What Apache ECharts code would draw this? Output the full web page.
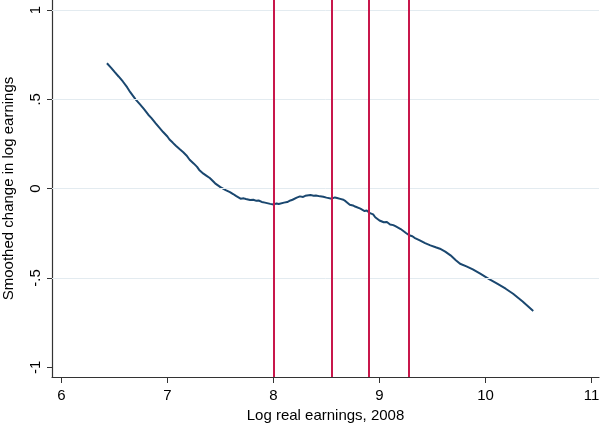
<!DOCTYPE html>
<html><head><meta charset="utf-8">
<script src="https://cdn.jsdelivr.net/npm/echarts@6/dist/echarts.min.js"></script>
<style>html,body{margin:0;padding:0;background:#fff}#c{width:600px;height:426px}</style>
</head><body><div id="c"></div><script>
const earningsX = [6.43,6.47,6.50,6.54,6.58,6.62,6.65,6.70,6.74,6.78,6.82,6.85,6.89,6.92,6.96,7.00,7.02,7.05,7.08,7.12,7.15,7.18,7.21,7.25,7.28,7.30,7.34,7.37,7.40,7.45,7.50,7.55,7.59,7.62,7.65,7.69,7.72,7.74,7.78,7.81,7.84,7.86,7.89,7.92,7.97,8.00,8.03,8.05,8.10,8.13,8.16,8.18,8.22,8.25,8.28,8.30,8.35,8.38,8.40,8.44,8.47,8.50,8.55,8.58,8.60,8.63,8.66,8.68,8.72,8.75,8.77,8.82,8.86,8.88,8.91,8.94,8.96,9.00,9.04,9.07,9.10,9.13,9.15,9.20,9.25,9.28,9.31,9.33,9.38,9.43,9.48,9.53,9.57,9.62,9.67,9.72,9.76,9.82,9.88,9.95,10.03,10.11,10.19,10.26,10.35,10.45];
const changeY = [0.702,0.676,0.655,0.628,0.600,0.568,0.540,0.500,0.473,0.445,0.414,0.395,0.366,0.345,0.317,0.292,0.275,0.258,0.240,0.219,0.204,0.186,0.162,0.140,0.122,0.105,0.084,0.072,0.060,0.030,0.009,-0.008,-0.019,-0.030,-0.042,-0.056,-0.054,-0.058,-0.063,-0.062,-0.068,-0.066,-0.074,-0.078,-0.085,-0.088,-0.083,-0.086,-0.078,-0.075,-0.066,-0.062,-0.050,-0.043,-0.046,-0.040,-0.036,-0.039,-0.038,-0.043,-0.045,-0.050,-0.056,-0.049,-0.052,-0.057,-0.062,-0.070,-0.090,-0.094,-0.100,-0.112,-0.125,-0.122,-0.137,-0.144,-0.160,-0.178,-0.188,-0.186,-0.200,-0.204,-0.210,-0.226,-0.248,-0.261,-0.266,-0.275,-0.289,-0.305,-0.317,-0.328,-0.336,-0.352,-0.373,-0.400,-0.420,-0.435,-0.452,-0.476,-0.505,-0.532,-0.560,-0.588,-0.632,-0.685];
const cutoffs = [8, 8.55, 8.905, 9.28];
const xTicks = [6,7,8,9,10,11];
const yTicks = [-1,-0.5,0,0.5,1];
const yTickLabels = ['-1','-.5','0','.5','1'];
const yGridLines = [-0.5,0,0.5,1];

const X_MIN = 5.912, X_MAX = 11.07, Y_MIN = -1.054, Y_MAX = 1.056;
const FONT = '"Liberation Sans", Arial, Helvetica, sans-serif';
const chart = echarts.init(document.getElementById('c'), null, {renderer:'canvas'});
const curve = earningsX.map((x,i)=>[x, changeY[i]]);
chart.setOption({
  animation:false,
  backgroundColor:'#ffffff',
  grid:{left:52, right:1, top:0, bottom:49, containLabel:false, outerBoundsMode:'none', show:false},
  xAxis:{
    type:'value', min:X_MIN, max:X_MAX,
    name:'Log real earnings, 2008', nameLocation:'middle', nameGap:29,
    nameTextStyle:{fontFamily:FONT, fontSize:15, color:'#000'},
    axisLine:{show:true, onZero:false, lineStyle:{color:'#333333', width:1.2}},
    axisTick:{show:true, length:6, customValues:xTicks, lineStyle:{color:'#333333', width:1}},
    axisLabel:{customValues:xTicks, fontFamily:FONT, fontSize:15, color:'#000', margin:11},
    splitLine:{show:false}
  },
  yAxis:{
    type:'value', min:Y_MIN, max:Y_MAX,
    name:'Smoothed change in log earnings', nameLocation:'middle', nameGap:36, nameRotate:90,
    nameTextStyle:{fontFamily:FONT, fontSize:15, color:'#000'},
    axisLine:{show:true, onZero:false, lineStyle:{color:'#333333', width:1.2}},
    axisTick:{show:true, length:5, customValues:yTicks, lineStyle:{color:'#333333', width:1}},
    axisLabel:{customValues:yTicks, rotate:90, fontFamily:FONT, fontSize:15, color:'#000', margin:9,
      formatter:(v)=>{const i=yTicks.findIndex(t=>Math.abs(t-v)<1e-9);return i>=0?yTickLabels[i]:'';}},
    splitLine:{show:false}
  },
  series:[
    {type:'line', data:[], silent:true, z:1,
     markLine:{silent:true, symbol:['none','none'], label:{show:false}, animation:false,
       lineStyle:{color:'#e3ebf0', width:1, type:'solid'},
       data: yGridLines.map(v=>({yAxis:v}))}},
    {type:'line', data:[], silent:true, z:2,
     markLine:{silent:true, symbol:['none','none'], label:{show:false}, animation:false,
       lineStyle:{color:'#c8174b', width:2, type:'solid'},
       data: cutoffs.map(v=>({xAxis:v}))}},
    {type:'line', data:curve, z:3, showSymbol:false, symbol:'none', smooth:false,
     lineStyle:{color:'#1a476f', width:2}}
  ]
});
</script></body></html>
